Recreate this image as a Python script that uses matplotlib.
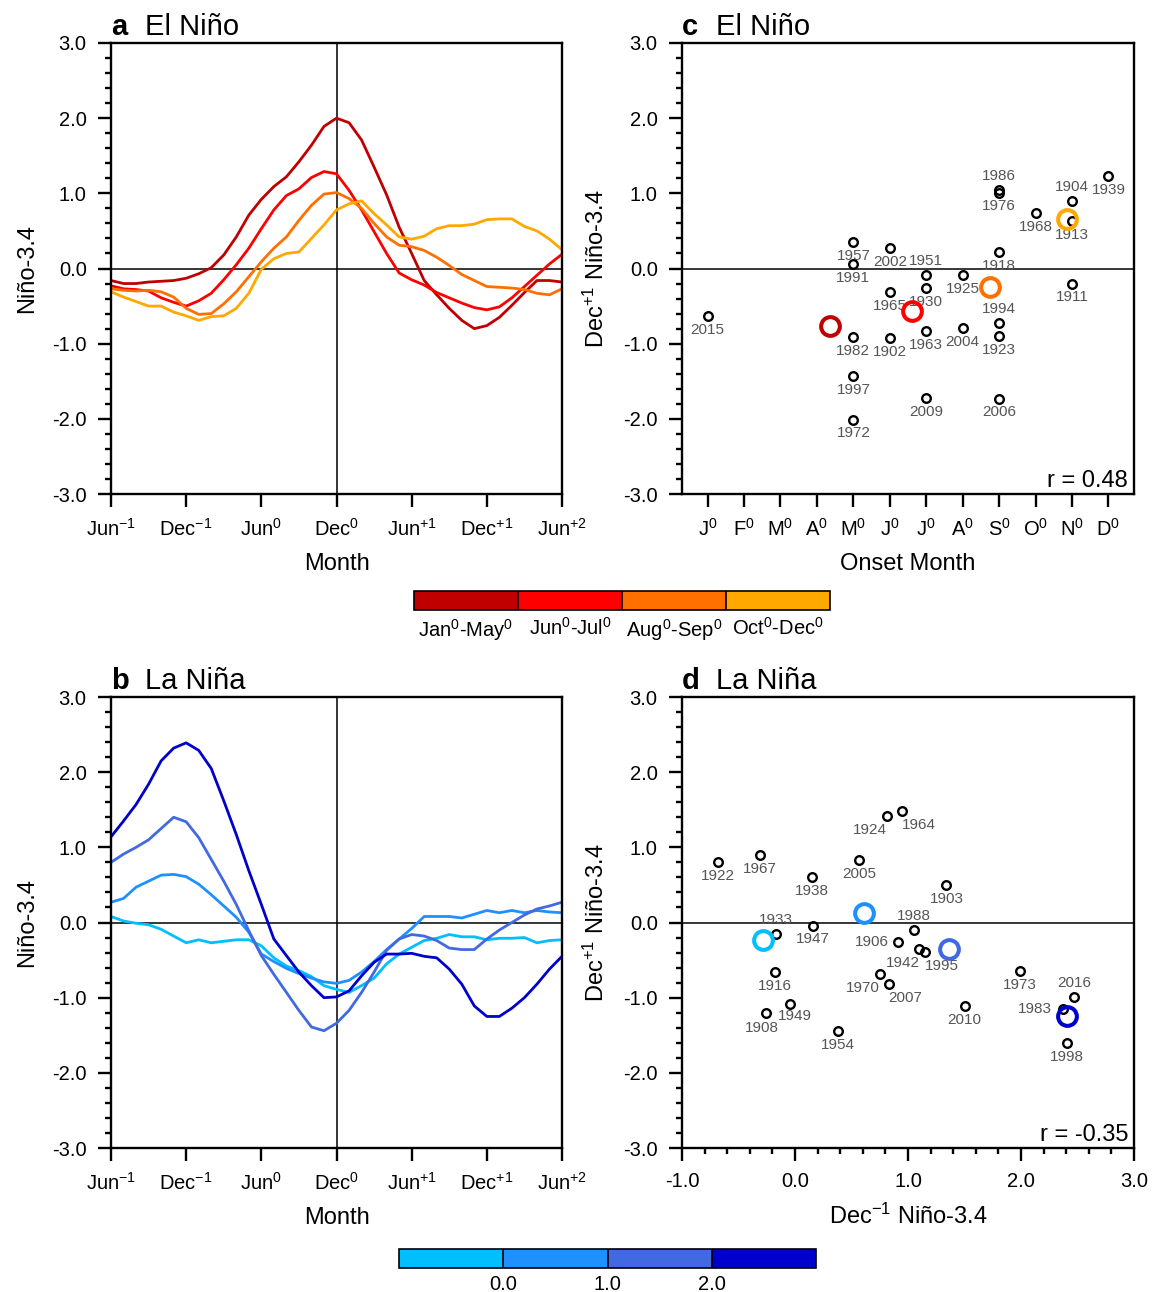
import matplotlib
matplotlib.use("Agg")
import matplotlib.pyplot as plt
import numpy as np
from matplotlib.colors import ListedColormap, BoundaryNorm
from matplotlib.colorbar import ColorbarBase
from matplotlib.ticker import MultipleLocator, FormatStrFormatter, FixedLocator

plt.rcParams["font.family"] = ["Liberation Sans", "DejaVu Sans"]
plt.rcParams["mathtext.fontset"] = "custom"
plt.rcParams["mathtext.rm"] = "Liberation Sans"
plt.rcParams["mathtext.it"] = "Liberation Sans:italic"
plt.rcParams["mathtext.bf"] = "Liberation Sans:bold"
plt.rcParams["axes.unicode_minus"] = False

# ---- composite Nino-3.4 evolution, Jun(-1) .. Jun(+2), monthly ----
month_idx = np.arange(37)
month_ticks = [0, 6, 12, 18, 24, 30, 36]
month_labels = [r"Jun$^{-1}$", r"Dec$^{-1}$", r"Jun$^{0}$", r"Dec$^{0}$",
                r"Jun$^{+1}$", r"Dec$^{+1}$", r"Jun$^{+2}$"]

# El Nino composites grouped by onset month
nino_jan_may = [-0.16, -0.2, -0.2, -0.18, -0.17, -0.16, -0.13, -0.07, 0.01, 0.18,
                0.42, 0.71, 0.92, 1.09, 1.22, 1.42, 1.64, 1.89, 2.0, 1.94,
                1.71, 1.35, 0.98, 0.55, 0.2, -0.16, -0.35, -0.53, -0.69, -0.8,
                -0.76, -0.65, -0.49, -0.32, -0.16, -0.16, -0.18]
nino_jun_jul = [-0.23, -0.27, -0.28, -0.3, -0.39, -0.45, -0.5, -0.43, -0.33, -0.15,
                0.05, 0.27, 0.53, 0.78, 0.97, 1.06, 1.21, 1.29, 1.26, 1.04,
                0.78, 0.49, 0.2, -0.06, -0.15, -0.22, -0.32, -0.39, -0.46, -0.52,
                -0.55, -0.51, -0.39, -0.24, -0.09, 0.06, 0.19]
nino_aug_sep = [-0.27, -0.29, -0.3, -0.29, -0.31, -0.38, -0.53, -0.61, -0.6, -0.47,
                -0.31, -0.11, 0.09, 0.27, 0.42, 0.64, 0.84, 0.99, 1.01, 0.93,
                0.8, 0.6, 0.42, 0.31, 0.29, 0.24, 0.15, 0.04, -0.08, -0.16,
                -0.24, -0.25, -0.26, -0.28, -0.33, -0.35, -0.27]
nino_oct_dec = [-0.31, -0.38, -0.44, -0.5, -0.5, -0.58, -0.63, -0.69, -0.64, -0.63,
                -0.53, -0.33, -0.01, 0.13, 0.2, 0.22, 0.4, 0.58, 0.78, 0.86,
                0.9, 0.73, 0.58, 0.42, 0.39, 0.43, 0.53, 0.57, 0.57, 0.59,
                0.65, 0.66, 0.66, 0.56, 0.5, 0.39, 0.25]

# La Nina composites grouped by Dec(-1) Nino-3.4
nina_lt0 = [0.08, 0.02, -0.01, -0.03, -0.09, -0.18, -0.27, -0.23, -0.27, -0.25,
            -0.23, -0.23, -0.31, -0.47, -0.58, -0.64, -0.72, -0.84, -0.89, -0.93,
            -0.84, -0.74, -0.55, -0.42, -0.33, -0.24, -0.21, -0.16, -0.19, -0.19,
            -0.23, -0.21, -0.21, -0.2, -0.27, -0.24, -0.23]
nina_0_1 = [0.27, 0.32, 0.47, 0.55, 0.63, 0.64, 0.61, 0.51, 0.37, 0.22,
            0.07, -0.13, -0.42, -0.52, -0.61, -0.68, -0.74, -0.79, -0.81, -0.77,
            -0.66, -0.52, -0.36, -0.22, -0.08, 0.08, 0.08, 0.08, 0.06, 0.11,
            0.16, 0.13, 0.16, 0.13, 0.16, 0.14, 0.13]
nina_1_2 = [0.8, 0.91, 1.0, 1.1, 1.25, 1.4, 1.34, 1.13, 0.84, 0.55,
            0.24, -0.11, -0.44, -0.69, -0.93, -1.17, -1.39, -1.44, -1.34, -1.17,
            -0.93, -0.66, -0.37, -0.22, -0.16, -0.18, -0.24, -0.34, -0.36, -0.36,
            -0.22, -0.1, 0.0, 0.1, 0.18, 0.22, 0.27]
nina_gt2 = [1.14, 1.35, 1.57, 1.84, 2.15, 2.32, 2.39, 2.29, 2.05, 1.62,
            1.17, 0.69, 0.24, -0.22, -0.44, -0.66, -0.84, -1.0, -0.99, -0.91,
            -0.71, -0.53, -0.42, -0.42, -0.41, -0.45, -0.47, -0.62, -0.82, -1.11,
            -1.25, -1.25, -1.14, -1.0, -0.82, -0.62, -0.45]

# ---- El Nino events: onset month vs Dec(+1) Nino-3.4 ----
onset_ticks = list(range(1, 13))
onset_labels = [r"J$^0$", r"F$^0$", r"M$^0$", r"A$^0$", r"M$^0$", r"J$^0$",
                r"J$^0$", r"A$^0$", r"S$^0$", r"O$^0$", r"N$^0$", r"D$^0$"]
en_years = [2015, 1957, 1991, 1982, 1997, 1972, 2002, 1965, 1902, 1951, 1930, 1963,
            2009, 1925, 2004, 1986, 1976, 1918, 1994, 1923, 2006, 1968, 1904, 1913,
            1911, 1939]
en_onset = [1, 5, 5, 5, 5, 5, 6, 6, 6, 7, 7, 7,
            7, 8, 8, 9, 9, 9, 9, 9, 9, 10, 11, 11,
            11, 12]
en_dec1 = [-0.63, 0.35, 0.06, -0.91, -1.43, -2.01, 0.27, -0.31, -0.92, -0.08, -0.26, -0.83,
           -1.72, -0.09, -0.79, 1.04, 1.01, 0.22, -0.73, -0.9, -1.73, 0.74, 0.9, 0.63,
           -0.2, 1.23]
en_group_onset = [4.35, 6.6, 8.75, 10.85]
en_group_dec1 = [-0.76, -0.56, -0.24, 0.66]
en_group_names = [r"Jan$^0$-May$^0$", r"Jun$^0$-Jul$^0$", r"Aug$^0$-Sep$^0$", r"Oct$^0$-Dec$^0$"]
en_r = 0.48

# ---- La Nina events: Dec(-1) vs Dec(+1) Nino-3.4 ----
ln_years = [1922, 1967, 1938, 2005, 1924, 1964, 1903, 1933, 1947, 1988, 1906, 1942,
            1995, 1916, 1970, 2007, 1973, 2016, 1983, 1949, 1908, 2010, 1954, 1998]
ln_decm1 = [-0.68, -0.31, 0.15, 0.57, 0.81, 0.95, 1.34, -0.17, 0.16, 1.05, 0.91, 1.10,
            1.15, -0.18, 0.75, 0.83, 1.99, 2.47, 2.37, -0.04, -0.26, 1.5, 0.38, 2.41]
ln_dec1 = [0.81, 0.9, 0.6, 0.83, 1.42, 1.48, 0.5, -0.15, -0.04, -0.1, -0.26, -0.35,
           -0.39, -0.66, -0.69, -0.82, -0.65, -0.99, -1.15, -1.08, -1.21, -1.11, -1.45, -1.6]
ln_group_decm1 = [-0.28, 0.61, 1.36, 2.41]
ln_group_dec1 = [-0.23, 0.12, -0.35, -1.25]
ln_bounds = [-1.0, 0.0, 1.0, 2.0, 3.0]
ln_r = -0.35

# ---- styling ----
reds = ["#C00000", "#FF0000", "#FF7000", "#FFA800"]
blues = ["#00BFFF", "#1E90FF", "#4169E1", "#0000CD"]
label_color = "#555555"
TICK_FS = 14.5
LABEL_FS = 17

# label offsets (points) for year annotations; default is directly below
en_label_offset = {1986: (0, 10), 1951: (0, 10), 1904: (0, 10), 1994: (0, 10)}
ln_label_offset = {1924: (-12, -10), 1964: (12, -10), 1933: (0, 10), 1988: (0, 10),
                   1906: (-19, 0), 1942: (-12, -10), 1995: (12, -10),
                   1970: (-12, -10), 2007: (12, -10), 2016: (0, 10), 1983: (-20, 0),
                   1949: (3, -9), 1908: (-3, -10.5)}

W, H = 1153, 1292
fig = plt.figure(figsize=(W / 100, H / 100), dpi=100)


def px_axes(left, top, right, bottom):
    return fig.add_axes([left / W, 1 - bottom / H, (right - left) / W, (bottom - top) / H])


def style_axes(ax):
    for s in ax.spines.values():
        s.set_linewidth(1.7)
    ax.set_ylim(-3, 3)
    ax.yaxis.set_major_locator(MultipleLocator(1.0))
    ax.yaxis.set_minor_locator(MultipleLocator(0.2))
    ax.yaxis.set_major_formatter(FormatStrFormatter("%.1f"))
    ax.tick_params(which="both", direction="out", top=False, right=False,
                   width=1.7, labelsize=TICK_FS)
    ax.tick_params(which="major", length=9.5, pad=8)
    ax.tick_params(which="minor", length=4.5)
    ax.axhline(0, color="k", lw=1.1, zorder=1)


def panel_title(ax, letter, name):
    ax.text(0.0, 1.018, letter, transform=ax.transAxes, fontsize=21,
            fontweight="bold", va="baseline", ha="left")
    ax.text(0.075, 1.018, name, transform=ax.transAxes, fontsize=21,
            va="baseline", ha="left")


def r_text(ax, r):
    ax.text(0.987, 0.016, f"r = {r:.2f}", transform=ax.transAxes, fontsize=17,
            ha="right", va="baseline")


def draw_scatter(ax, xs, ys, years, offsets):
    ax.plot(xs, ys, "o", ms=6.2, mfc="none", mec="k", mew=1.7, zorder=3)
    for x, y, yr in zip(xs, ys, years):
        dx, dy = offsets.get(yr, (0, -10))
        ax.annotate(str(yr), (x, y), xytext=(dx, dy), textcoords="offset points",
                    ha="center", va="center", fontsize=11, color=label_color,
                    zorder=2)


def curve_panel(ax, series, colors, letter, name):
    style_axes(ax)
    for vals, c in zip(series, colors):
        ax.plot(month_idx, vals, color=c, lw=2.0, zorder=2)
    ax.axvline(18, color="k", lw=1.1, zorder=1)
    ax.set_xlim(0, 36)
    ax.xaxis.set_major_locator(FixedLocator(month_ticks))
    ax.set_xticklabels(month_labels)
    ax.set_xlabel("Month", fontsize=LABEL_FS, labelpad=9)
    ax.set_ylabel("Niño-3.4", fontsize=LABEL_FS, labelpad=10)
    panel_title(ax, letter, name)


# panel a
ax_a = px_axes(111, 43, 562, 494)
curve_panel(ax_a, [nino_jan_may, nino_jun_jul, nino_aug_sep, nino_oct_dec], reds, "a", "El Niño")

# panel b
ax_b = px_axes(111, 697, 562, 1148)
curve_panel(ax_b, [nina_lt0, nina_0_1, nina_1_2, nina_gt2], blues, "b", "La Niña")

# panel c
ax_c = px_axes(682, 43, 1134, 494)
style_axes(ax_c)
ax_c.set_xlim(0.3, 12.7)
ax_c.xaxis.set_major_locator(FixedLocator(onset_ticks))
ax_c.set_xticklabels(onset_labels)
draw_scatter(ax_c, en_onset, en_dec1, en_years, en_label_offset)
for x, y, c in zip(en_group_onset, en_group_dec1, reds):
    ax_c.plot(x, y, "o", ms=13.5, mfc="none", mec=c, mew=2.9, zorder=4)
ax_c.set_xlabel("Onset Month", fontsize=LABEL_FS, labelpad=9)
ax_c.set_ylabel(r"Dec$^{+1}$ Niño-3.4", fontsize=LABEL_FS, labelpad=10)
panel_title(ax_c, "c", "El Niño")
r_text(ax_c, en_r)

# panel d
ax_d = px_axes(682, 697, 1134, 1148)
style_axes(ax_d)
ax_d.set_xlim(-1, 3)
ax_d.xaxis.set_major_locator(MultipleLocator(1.0))
ax_d.xaxis.set_minor_locator(MultipleLocator(0.2))
ax_d.xaxis.set_major_formatter(FormatStrFormatter("%.1f"))
draw_scatter(ax_d, ln_decm1, ln_dec1, ln_years, ln_label_offset)
for x, y, c in zip(ln_group_decm1, ln_group_dec1, blues):
    ax_d.plot(x, y, "o", ms=13.5, mfc="none", mec=c, mew=2.9, zorder=4)
ax_d.set_xlabel(r"Dec$^{-1}$ Niño-3.4", fontsize=LABEL_FS, labelpad=9)
ax_d.set_ylabel(r"Dec$^{+1}$ Niño-3.4", fontsize=LABEL_FS, labelpad=10)
panel_title(ax_d, "d", "La Niña")
r_text(ax_d, ln_r)

# colour bars
cax1 = px_axes(414, 591, 830, 610)
cb1 = ColorbarBase(cax1, cmap=ListedColormap(reds), norm=BoundaryNorm([0, 1, 2, 3, 4], 4),
                   orientation="horizontal", drawedges=True)
cb1.set_ticks([0.5, 1.5, 2.5, 3.5])
cb1.set_ticklabels(en_group_names)
cb1.ax.minorticks_off()
cb1.ax.tick_params(length=0, labelsize=TICK_FS, pad=5)
cb1.outline.set_linewidth(1.2)
cb1.dividers.set_linewidth(1.2)

cax2 = px_axes(399, 1249, 816, 1268)
cb2 = ColorbarBase(cax2, cmap=ListedColormap(blues), norm=BoundaryNorm(ln_bounds, 4),
                   orientation="horizontal", drawedges=True)
cb2.set_ticks(ln_bounds[1:-1])
cb2.set_ticklabels([f"{b:.1f}" for b in ln_bounds[1:-1]])
cb2.ax.minorticks_off()
cb2.ax.tick_params(length=0, labelsize=TICK_FS, pad=5)
cb2.outline.set_linewidth(1.2)
cb2.dividers.set_linewidth(1.2)

fig.savefig("out.png", dpi=100)
